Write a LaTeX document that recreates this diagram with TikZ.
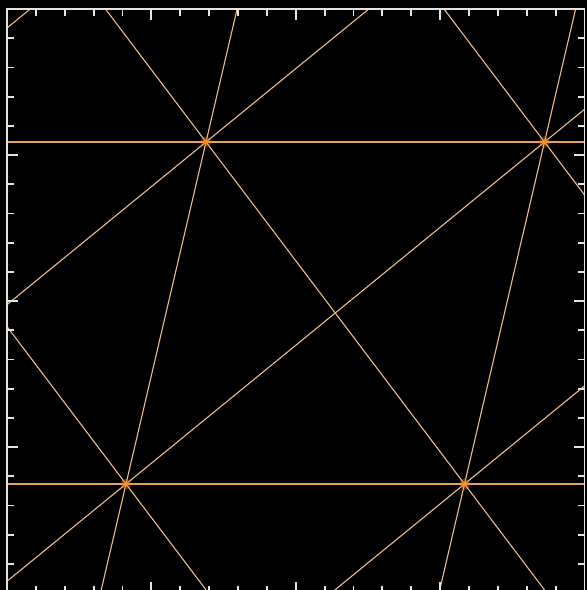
\documentclass[tikz,border=0pt]{standalone}
\usetikzlibrary{calc}
\definecolor{latline}{RGB}{238,188,140}
\definecolor{hline}{RGB}{232,160,90}
\definecolor{dotc}{RGB}{245,140,40}
\definecolor{framec}{RGB}{228,228,228}
\begin{document}
\begin{tikzpicture}[x=1pt,y=-1pt,
  latl/.style={draw=latline,line width=1.1pt},
  horl/.style={draw=hline,line width=1.6pt},
  tickl/.style={draw=framec,line width=1.8pt},
  framel/.style={draw=framec,line width=1.8pt}]
\fill[black] (0,0) rectangle (587,590);
\useasboundingbox (0,0) rectangle (587,590);
% lattice points
\coordinate (A) at (206,142);
\coordinate (B) at (544.5,142);
\coordinate (C) at (126,484);
\coordinate (D) at (464.5,484);
\coordinate (Am) at (-132.5,142);
\coordinate (Bp) at (883,142);
\coordinate (Cm) at (-212.5,484);
\coordinate (Cmm) at (-551,484);
\coordinate (Dp) at (803,484);
\newcommand\mylatline[3]{\draw[#1] ($(#2)!-2!(#3)$) -- ($(#3)!-2!(#2)$);}
\begin{scope}
\clip (7,9) rectangle (584.5,593);
% direction v
\mylatline{latl}{A}{C}
\mylatline{latl}{B}{D}
% direction u+v
\mylatline{latl}{Am}{C}
\mylatline{latl}{A}{D}
\mylatline{latl}{B}{Dp}
% direction v-u
\mylatline{latl}{Am}{Cmm}
\mylatline{latl}{A}{Cm}
\mylatline{latl}{B}{C}
\mylatline{latl}{Bp}{D}
% horizontals
\mylatline{horl}{Am}{B}
\mylatline{horl}{Cm}{D}
\end{scope}
% glowing lattice points
\foreach \p in {A,B,C,D}{
  \fill[dotc,opacity=0.35] (\p) circle (5.5);
  \fill[dotc] (\p) circle (2.6);
}
% frame and ticks
\draw[framel] (7,9) rectangle (584.5,593);
\foreach \k in {1,...,19}{
  \pgfmathsetmacro\tx{7+28.875*\k}
  \pgfmathsetmacro\ty{9+29.2*\k}
  \pgfmathsetmacro\tl{(\k==5||\k==10||\k==15)?11:7}
  \draw[tickl] (\tx,9) -- (\tx,{9+\tl});
  \draw[tickl] (\tx,593) -- (\tx,{593-\tl});
  \draw[tickl] (7,\ty) -- ({7+\tl},\ty);
  \draw[tickl] (584.5,\ty) -- ({584.5-\tl},\ty);
}
\end{tikzpicture}
\end{document}
